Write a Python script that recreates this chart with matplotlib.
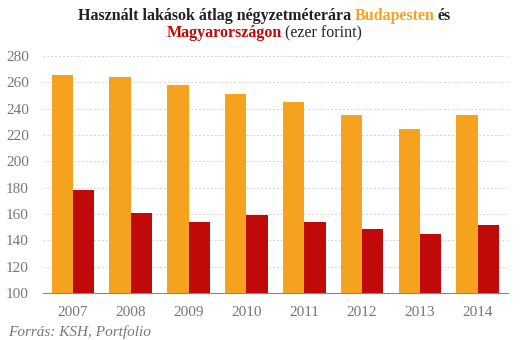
import numpy as np
import matplotlib.pyplot as plt

years = ['2007', '2008', '2009', '2010', '2011', '2012', '2013', '2014']
budapest = [266, 264, 258, 251, 245, 235, 225, 235]
magyarorszag = [178, 161, 154, 159, 154, 149, 145, 152]

orange = '#F5A31E'
red = '#C00A0A'
grey = '#777777'

plt.rcParams['font.family'] = ['Liberation Serif', 'DejaVu Serif']

fig = plt.figure(figsize=(5.29, 3.40), dpi=100)
ax = fig.add_axes([0.081, 0.138, 0.879, 0.697])

x = np.arange(len(years))
w = 0.37
ax.bar(x - w / 2, budapest, w, color=orange, zorder=3)
ax.bar(x + w / 2, magyarorszag, w, color=red, zorder=3)

ax.set_ylim(100, 280)
ax.set_xlim(-0.52, 7.52)
ax.set_yticks(range(100, 281, 20))
ax.set_xticks(x)
ax.set_xticklabels(years)
ax.yaxis.grid(True, color='#d4d4d4', linestyle=(0, (2, 2)), linewidth=0.7, zorder=0)
for s in ['top', 'right', 'left']:
    ax.spines[s].set_visible(False)
ax.spines['bottom'].set_color('#888888')
ax.tick_params(axis='both', length=0, labelsize=11, colors=grey, pad=9)
ax.tick_params(axis='y', pad=10)

# title made of coloured pieces
def line(pieces, y):
    fig.canvas.draw()
    r = fig.canvas.get_renderer()
    texts = []
    for s, c, wt, sz in pieces:
        t = fig.text(0, y, s, color=c, fontweight=wt, fontsize=sz, va='baseline')
        texts.append(t)
    widths = [t.get_window_extent(r).width for t in texts]
    space = 3
    total = sum(widths) + space * (len(texts) - 1)
    xpos = (fig.bbox.width - total) / 2
    for t, wd in zip(texts, widths):
        t.set_x(xpos / fig.bbox.width)
        xpos += wd + space

line([('Használt lakások átlag négyzetméterára', '#222222', 'bold', 11.5),
      ('Budapesten', orange, 'bold', 11.5),
      ('és', '#222222', 'bold', 11.5)], 1 - 20 / 340)
line([('Magyarországon', red, 'bold', 11.5),
      ('(ezer forint)', '#222222', 'normal', 11.5)], 1 - 37 / 340)

fig.text(8 / 529, 1 - 336 / 340, 'Forrás: KSH, Portfolio', color=grey,
         fontsize=11, style='italic', va='baseline')

fig.savefig('out.png', dpi=100)
